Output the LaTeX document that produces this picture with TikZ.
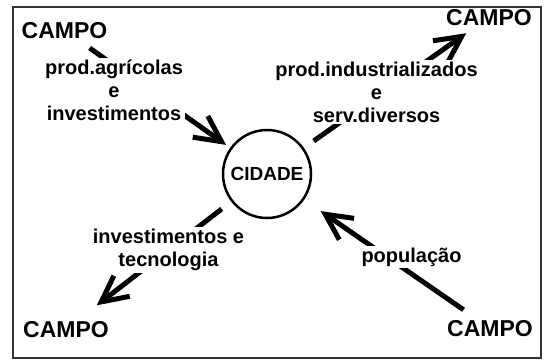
\documentclass[tikz,border=0pt]{standalone}
\usepackage{fontspec}
\setmainfont{Liberation Sans}
\usepackage{tikz}
\usetikzlibrary{arrows.meta,positioning}

\begin{document}
\begin{tikzpicture}[x=1pt, y=-1pt,
    campo/.style={font=\fontsize{23}{23}\selectfont\bfseries, inner sep=2pt, anchor=base},
    rotulo/.style={font=\fontsize{20}{20}\selectfont\bfseries, align=center, fill=white, inner sep=2pt},
    fluxo/.style={line width=5pt, -{Straight Barb[length=26pt,width=26pt]}}]
    \useasboundingbox (0,0) rectangle (548,362);
    \draw[line width=2pt, black!80] (13,7) rectangle (541,358);

    % cidade no meio, campos nos cantos
    \node[circle, draw, line width=2.5pt, minimum size=88pt, inner sep=0pt,
          font=\fontsize{19}{19}\selectfont\bfseries] (cidade) at (267,174) {CIDADE};
    \node[campo] (campoNO) at (64.5,38) {CAMPO};
    \node[campo] (campoNE) at (489,25) {CAMPO};
    \node[campo] (campoSO) at (66,337) {CAMPO};
    \node[campo] (campoSE) at (490,336) {CAMPO};

    % fluxos (os rotulos tapam o meio da linha)
    \draw[fluxo, shorten <=13pt, shorten >=5pt] (campoNO) -- (cidade);
    \draw[fluxo, shorten <=12pt, shorten >=10pt] (cidade) -- (campoNE);
    \draw[fluxo, shorten <=12pt, shorten >=22pt] (cidade) -- (campoSO);
    \draw[fluxo, shorten <=14pt, shorten >=20pt] (campoSE) -- (cidade);

    \node[rotulo] (rotNO) at (114,90) {prod.agrícolas\\[3pt]e\\[3pt]investimentos};
    \node[rotulo] (rotNE) at (376.5,92) {prod.industrializados\\[3pt]e\\[3pt]serv.diversos};
    \node[rotulo] (rotSO) at (168.5,250) {investimentos e\\[3pt]tecnologia};
    \node[rotulo] (rotSE) at (411.5,257) {população};
\end{tikzpicture}
\end{document}
